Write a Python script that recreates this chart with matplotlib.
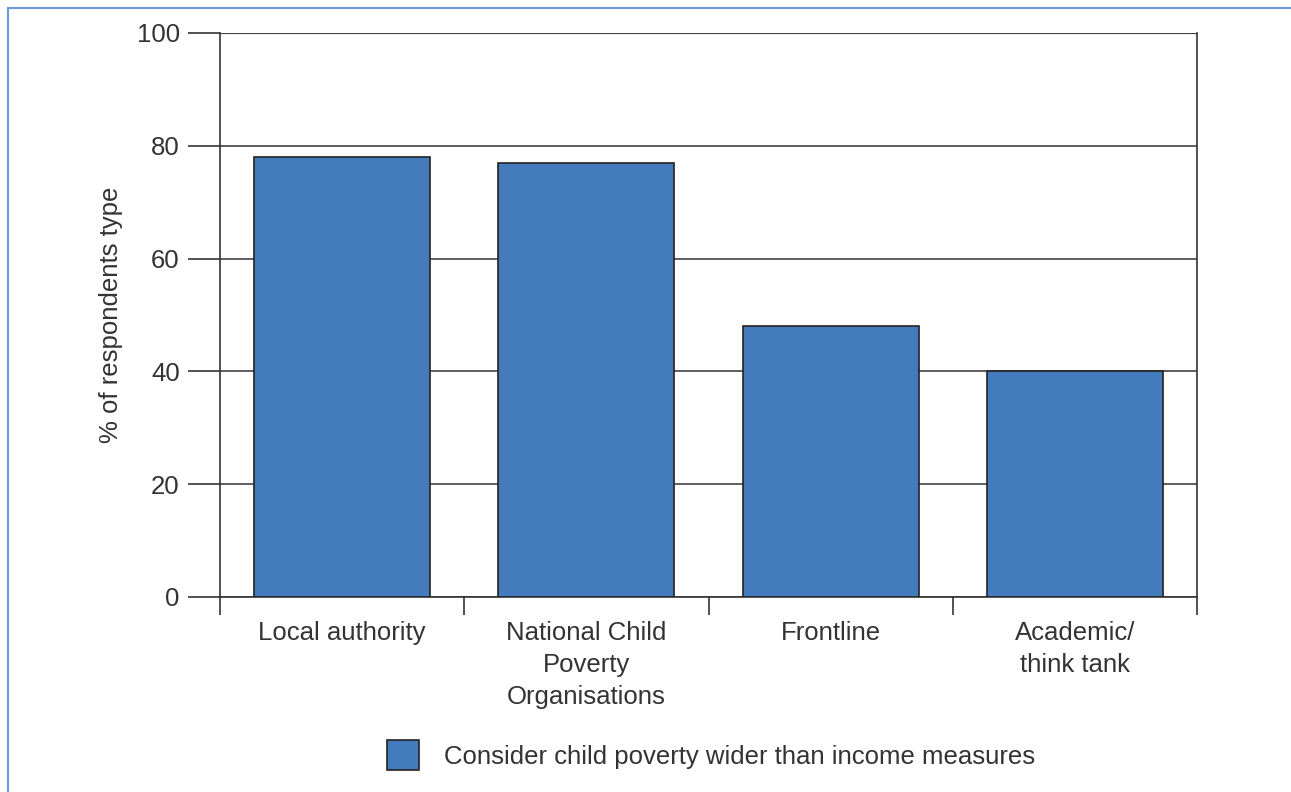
import matplotlib.pyplot as plt
from matplotlib.patches import Rectangle, Patch

categories = ["Local authority", "National Child\nPoverty\nOrganisations", "Frontline", "Academic/\nthink tank"]
values = [78, 77, 48, 40]
series_name = "Consider child poverty wider than income measures"
yticks = [0, 20, 40, 60, 80, 100]

bar_color = "#437bbd"
text_color = "#333333"

plt.rcParams['font.family'] = ['Liberation Sans', 'DejaVu Sans']

fig = plt.figure(figsize=(12.91, 7.92), dpi=100)
ax = fig.add_axes([220 / 1291, 1 - 597 / 792, 977 / 1291, 564 / 792])

# light blue frame round the figure
fig.patches.append(Rectangle((8 / 1291, -0.1), 1.2, 1 - 8 / 792 + 0.1, transform=fig.transFigure,
                             fill=False, edgecolor="#6b9bd6", linewidth=1.5))

x = [i + 0.5 for i in range(len(categories))]
ax.bar(x, values, width=0.72, color=bar_color, edgecolor="#222222", linewidth=1.2, zorder=3)

ax.set_xlim(0, len(categories))
ax.set_ylim(0, 100)
ax.set_yticks(yticks)
ax.set_yticklabels([str(v) for v in yticks], fontsize=18.5, color=text_color)
ax.tick_params(axis='y', length=23, width=1.2, color="#333333", pad=6)

ax.set_xticks(range(len(categories) + 1))
ax.set_xticklabels([])
ax.tick_params(axis='x', which='major', length=13, width=1.2, color="#333333")
ax.set_xticks(x, minor=True)
ax.set_xticklabels(categories, minor=True, fontsize=18.5, color=text_color, linespacing=1.43)
ax.tick_params(axis='x', which='minor', length=0, pad=17)

ax.grid(axis='y', color="#333333", linewidth=1.1, zorder=0)
ax.axhline(100, color="#777777", linewidth=1.6, zorder=1)
ax.spines['top'].set_visible(False)
for s in ['left', 'right', 'bottom']:
    ax.spines[s].set_color("#333333")
    ax.spines[s].set_linewidth(1.2)

ax.set_ylabel("% of respondents type", fontsize=18.5, color=text_color)
ax.yaxis.set_label_coords(-97 / 977, 0.5)

handle = Patch(facecolor=bar_color, edgecolor="#222222", linewidth=1.2)
fig.legend([handle], [series_name], loc='center', bbox_to_anchor=(711 / 1291, 1 - 755 / 792),
           frameon=False, fontsize=18.5, handlelength=1.25, handleheight=1.4, handletextpad=1.0,
           labelcolor=text_color)

fig.savefig("out.png", dpi=100)
